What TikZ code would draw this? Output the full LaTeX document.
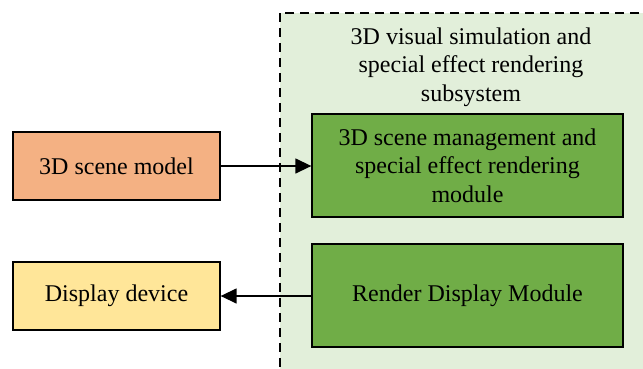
\documentclass[tikz,border=0pt]{standalone}
\usepackage{fontspec}
\setmainfont{Liberation Serif}
\usetikzlibrary{arrows.meta}
\definecolor{modelfill}{HTML}{F4B183}
\definecolor{devfill}{HTML}{FFE699}
\definecolor{modfill}{HTML}{70AD47}
\definecolor{subfill}{HTML}{E2EFDA}
\tikzset{
  txt/.style={font=\fontsize{24}{28.5}\selectfont, align=center},
  blk/.style={txt, draw=black, line width=1.3pt, inner sep=0pt},
  conn/.style={line width=1.4pt, -{Triangle[length=16pt,width=15pt]}},
}
\begin{document}
\begin{tikzpicture}[x=1pt,y=-1pt]
\useasboundingbox (0,0) rectangle (643,368);
\begin{scope}
\clip (0,0) rectangle (643,368);
% subsystem container
\draw[fill=subfill, dash pattern=on 9pt off 6pt, line width=1.1pt] (280,13) rectangle (660,390);
\end{scope}
\node[txt] (title) at (471,67)
  {3D visual simulation and\\special effect rendering\\subsystem};
\node[blk, fill=modelfill, minimum width=207pt, minimum height=68pt] (model) at (116.5,166) {3D scene model};
\node[blk, fill=devfill, minimum width=207pt, minimum height=68pt] (dev) at (116.5,296) {Display device};
\node[blk, fill=modfill, minimum width=311pt, minimum height=103pt] (scene) at (467.5,165.5)
  {3D scene management and\\special effect rendering\\module};
\node[blk, fill=modfill, minimum width=311pt, minimum height=103pt] (render) at (467.5,295.5) {Render Display Module};
\draw[conn] (model.east) -- (model.east -| scene.west);
\draw[conn] (render.west |- dev.east) -- (dev.east);
\end{tikzpicture}
\end{document}
